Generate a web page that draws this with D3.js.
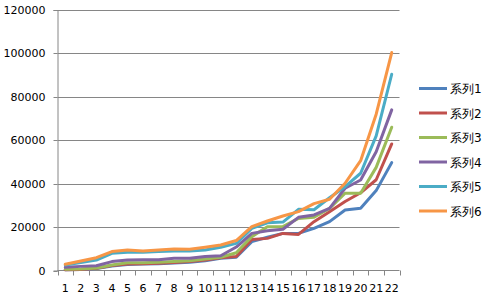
<!DOCTYPE html>
<html>
<head>
<meta charset="utf-8">
<script src="https://cdn.jsdelivr.net/npm/d3@7"></script>
<style>
  body { margin: 0; background: #fff; }
  text { font-family: "DejaVu Sans", sans-serif; }
</style>
</head>
<body>
<svg id="chart" width="492" height="298"></svg>
<script>
// categories and series
const categories = d3.range(1, 23).map(String);
const seriesNames = ["系列1", "系列2", "系列3", "系列4", "系列5", "系列6"];
const s1 = [300, 500, 900, 2100, 2800, 3000, 3100, 3400, 3800, 4500, 5600, 6100, 13300, 15300, 17100, 17100, 19400, 22500, 27900, 28700, 36800, 49700];
const s2 = [300, 500, 1000, 2300, 3000, 3100, 3300, 3700, 4100, 4800, 5900, 6400, 14300, 14800, 17100, 16600, 22500, 27100, 31800, 35800, 41800, 58300];
const s3 = [550, 700, 1150, 2500, 3600, 3600, 3800, 4100, 4500, 5300, 6100, 8200, 15600, 20200, 20200, 24000, 24500, 28600, 35600, 35600, 47500, 66000];
const s4 = [1450, 1900, 2200, 4100, 4800, 4900, 5000, 5600, 5600, 6400, 6800, 10800, 17100, 18300, 19000, 24500, 25600, 28600, 37900, 41700, 54700, 74000];
const s5 = [2500, 3700, 4800, 7900, 8400, 8400, 8700, 9000, 9000, 9450, 10700, 12500, 19400, 22000, 22300, 28200, 28000, 33500, 38600, 44800, 62000, 90400];
const s6 = [2850, 4400, 5900, 8700, 9450, 9000, 9450, 9900, 9800, 10700, 11750, 13800, 20200, 22800, 25100, 27100, 30800, 32800, 40200, 50600, 72000, 100400];
const yTicks = [0, 20000, 40000, 60000, 80000, 100000, 120000];
const colors = ["#4F81BD", "#C0504D", "#9BBB59", "#8064A2", "#4BACC6", "#F79646"];

const allSeries = [s1, s2, s3, s4, s5, s6];

const svg = d3.select("#chart");
const plotLeft = 57.5, plotRight = 399.5, plotTop = 10, plotBottom = 270.5;

let x = d3.scaleBand().domain(categories).range([plotLeft, plotRight]);
let y = d3.scaleLinear().domain([0, 120000]).range([plotBottom, plotTop]);

// gridlines
svg.append("g")
    .selectAll("line")
    .data(yTicks.slice(1))
    .join("line")
    .attr("x1", plotLeft).attr("x2", plotRight)
    .attr("y1", d => Math.round(y(d)) + 0.5)
    .attr("y2", d => Math.round(y(d)) + 0.5)
    .attr("stroke", "#868686");

// y axis
const yAxis = svg.append("g")
    .attr("transform", `translate(${plotLeft},0)`)
    .call(d3.axisLeft(y).tickValues(yTicks).tickSize(4).tickPadding(8).tickFormat(d3.format("d")));
yAxis.select(".domain").attr("stroke", "#868686");
yAxis.selectAll(".tick line").attr("stroke", "#868686");
yAxis.selectAll(".tick").attr("transform", d => `translate(0,${Math.round(y(d)) + 0.5})`);
yAxis.selectAll("text").attr("font-size", "11px").attr("fill", "#000").attr("font-family", "DejaVu Sans");

// x axis: ticks between categories
const xAxis = svg.append("g").attr("transform", `translate(0,${plotBottom})`);
xAxis.append("line")
    .attr("x1", plotLeft).attr("x2", plotRight)
    .attr("stroke", "#868686");
xAxis.selectAll(".xt")
    .data(categories.concat(["end"]))
    .join("line")
    .attr("class", "xt")
    .attr("x1", (d, i) => Math.round(plotLeft + i * x.bandwidth()) + 0.5)
    .attr("x2", (d, i) => Math.round(plotLeft + i * x.bandwidth()) + 0.5)
    .attr("y1", 0).attr("y2", 5)
    .attr("stroke", "#868686");
xAxis.selectAll(".xl")
    .data(categories)
    .join("text")
    .attr("class", "xl")
    .attr("x", d => x(d) + x.bandwidth() / 2)
    .attr("y", 21)
    .attr("text-anchor", "middle")
    .attr("font-size", "11px")
    .attr("fill", "#000")
    .text(d => d);

// lines
const line = d3.line()
    .x((d, i) => x(categories[i]) + x.bandwidth() / 2)
    .y(d => y(d));

svg.append("g")
    .selectAll("path")
    .data(allSeries)
    .join("path")
    .attr("d", d => line(d))
    .attr("fill", "none")
    .attr("stroke", (d, i) => colors[i])
    .attr("stroke-width", 3)
    .attr("stroke-linejoin", "round")
    .attr("stroke-linecap", "round");

// legend
const legend = svg.append("g")
    .selectAll("g")
    .data(seriesNames)
    .join("g")
    .attr("transform", (d, i) => `translate(419,${88.5 + i * 24.5})`);
legend.append("line")
    .attr("x1", 0).attr("x2", 28)
    .attr("stroke", (d, i) => colors[i])
    .attr("stroke-width", 3);
legend.append("text")
    .attr("x", 31)
    .attr("y", 4.5)
    .attr("font-size", "12px")
    .attr("font-family", "Noto Sans CJK SC, sans-serif")
    .attr("fill", "#000")
    .text(d => d);
</script>
</body>
</html>
